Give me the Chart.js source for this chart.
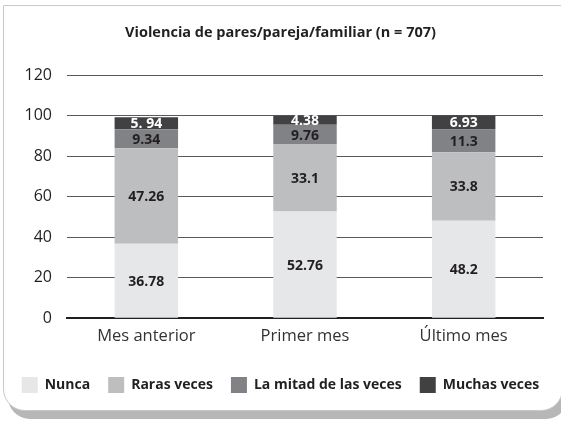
<!DOCTYPE html>
<html>
<head>
<meta charset="utf-8">
<script src="https://cdn.jsdelivr.net/npm/chart.js@4/dist/chart.umd.min.js"></script>
<style>
  html, body { margin: 0; padding: 0; background: #fff; overflow: hidden; }
  #frame {
    position: absolute; left: 3px; top: 5px;
    width: 558px; height: 404px;
    border: 1px solid #c9c9c9;
    border-radius: 0 0 22px 22px;
    box-shadow: 5px 8px 0 #b7b7b7;
    background: #fff;
  }
  #wrap { position: absolute; left: 0; top: 0; width: 561px; height: 425px; }
</style>
</head>
<body>
<div id="frame"></div>
<div id="wrap"><canvas id="myChart" width="561" height="425"></canvas></div>
<script>
// categorias y series (porcentajes)
const categorias = ['Mes anterior', 'Primer mes', 'Último mes'];
const nunca = [36.78, 52.76, 48.2];
const rarasVeces = [47.26, 33.1, 33.8];
const mitadVeces = [9.34, 9.76, 11.3];
const muchasVeces = [5.94, 4.38, 6.93];
// etiquetas tal como aparecen en la figura
const etiquetasMuchas = ['5. 94', '4.38', '6.93'];
const ticksY = [0, 20, 40, 60, 80, 100, 120];

const tinta = '#231f20';

// dibuja los valores en el centro de cada segmento
const etiquetasPlugin = {
  id: 'etiquetas',
  afterDatasetsDraw(chart) {
    const ctx = chart.ctx;
    ctx.save();
    ctx.font = 'bold 14px "Open Sans"';
    ctx.textAlign = 'center';
    ctx.textBaseline = 'middle';
    chart.data.datasets.forEach((ds, i) => {
      const meta = chart.getDatasetMeta(i);
      meta.data.forEach((bar, j) => {
        const txt = ds.etiquetas ? ds.etiquetas[j] : String(ds.data[j]);
        ctx.fillStyle = ds.colorTexto;
        ctx.fillText(txt, bar.x, (bar.y + bar.base) / 2 + 1);
      });
    });
    ctx.restore();
  }
};

const data = {
  labels: categorias,
  datasets: [
    { label: 'Nunca', data: nunca, backgroundColor: '#e6e7e8', colorTexto: tinta },
    { label: 'Raras veces', data: rarasVeces, backgroundColor: '#bcbec0', colorTexto: tinta },
    { label: 'La mitad de las veces', data: mitadVeces, backgroundColor: '#808285', colorTexto: tinta },
    { label: 'Muchas veces', data: muchasVeces, backgroundColor: '#414042', colorTexto: '#ffffff', etiquetas: etiquetasMuchas }
  ]
};

const config = {
  type: 'bar',
  data: data,
  plugins: [etiquetasPlugin],
  options: {
    responsive: false,
    animation: false,
    barPercentage: 0.4,
    categoryPercentage: 1,
    layout: { padding: { left: 0, right: 0, top: 0, bottom: 22 } },
    plugins: {
      title: {
        display: true,
        text: 'Violencia de pares/pareja/familiar (n = 707)',
        color: tinta,
        font: { family: '"Open Sans"', size: 14.5, weight: 'bold' },
        padding: { top: 24, bottom: 34 }
      },
      legend: {
        position: 'bottom',
        labels: {
          color: tinta,
          font: { family: '"Open Sans"', size: 14, weight: 'bold' },
          boxWidth: 16,
          boxHeight: 16,
          padding: 18
        }
      },
      tooltip: { enabled: false }
    },
    scales: {
      x: {
        stacked: true,
        afterFit: s => { s.height += 5; },
        grid: { display: false, drawTicks: false },
        border: { color: tinta, width: 2 },
        ticks: { color: '#333', padding: 8, font: { family: '"Open Sans"', size: 16.5 } }
      },
      y: {
        stacked: true,
        min: 0,
        max: 120,
        afterFit: s => { s.width = 67; },
        afterBuildTicks: s => { s.ticks = ticksY.map(v => ({ value: v })); },
        grid: { color: '#58595b', lineWidth: 1, drawTicks: false },
        border: { display: false },
        ticks: { color: tinta, padding: 15, font: { family: '"Open Sans"', size: 16 } }
      },
      derecha: {
        position: 'right',
        afterFit: s => { s.width = 18; },
        grid: { display: false, drawTicks: false },
        border: { display: false },
        ticks: { display: false }
      }
    }
  }
};

const myChart = new Chart(document.getElementById('myChart'), config);
</script>
</body>
</html>
